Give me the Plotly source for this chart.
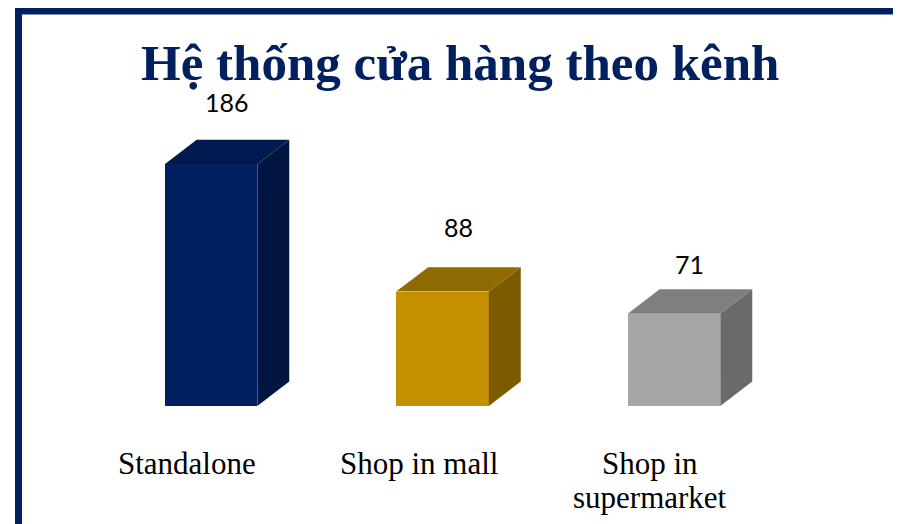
import plotly.graph_objects as go

# ---- data ----
categories = ["Standalone", "Shop in mall", "Shop in\nsupermarket"]
values = [186, 88, 71]
title_text = "Hệ thống cửa hàng theo kênh"

# ---- styles ----
front_colors = ["#002060", "#c59000", "#a6a6a6"]
top_colors = ["#001a4f", "#8f6a00", "#7f7f7f"]
side_colors = ["#00153f", "#7c5b00", "#6a6a6a"]
label_shift_px = [38, 40, 25]
navy = "#002060"

W, H = 901, 524
OFF = 8  # page body margin
bar_w = 0.4
dx = 0.138   # depth in category units
dy = 18.8    # depth in value units

x_pos = list(range(len(categories)))

fig = go.Figure()

# front faces
fig.add_trace(go.Bar(
    x=x_pos, y=values, width=bar_w,
    marker=dict(color=front_colors, line=dict(width=0)),
    hoverinfo="skip", showlegend=False,
))

# top and side faces
for i, v in enumerate(values):
    xl = x_pos[i] - bar_w / 2
    xr = x_pos[i] + bar_w / 2
    fig.add_trace(go.Scatter(
        x=[xl, xr, xr + dx, xl + dx, xl],
        y=[v, v, v + dy, v + dy, v],
        fill="toself", fillcolor=top_colors[i], mode="lines",
        line=dict(width=0, color=top_colors[i]),
        hoverinfo="skip", showlegend=False,
    ))
    fig.add_trace(go.Scatter(
        x=[xr, xr + dx, xr + dx, xr, xr],
        y=[0, dy, v + dy, v, 0],
        fill="toself", fillcolor=side_colors[i], mode="lines",
        line=dict(width=0, color=side_colors[i]),
        hoverinfo="skip", showlegend=False,
    ))

annotations = []
# value labels
for i, v in enumerate(values):
    annotations.append(dict(
        x=x_pos[i] + dx / 2, y=v + dy, xref="x", yref="y",
        text=str(v), showarrow=False, yanchor="middle", xanchor="center",
        yshift=label_shift_px[i],
        font=dict(family="Lato, Open Sans, sans-serif", size=25, color="#000000"),
    ))

# category labels (line by line)
for i, cat in enumerate(categories):
    for j, line in enumerate(cat.split("\n")):
        annotations.append(dict(
            x=x_pos[i], y=0, xref="x", yref="y",
            text=line, showarrow=False, yanchor="middle", xanchor="center",
            xshift=-24, yshift=-(57 + 34 * j),
            font=dict(family="Liberation Serif, serif", size=31, color="#000000"),
        ))

# title
annotations.append(dict(
    x=(459.5 - OFF) / W, y=1 - (63 - OFF) / H, xref="paper", yref="paper",
    text="<b>" + title_text + "</b>", showarrow=False,
    xanchor="center", yanchor="middle",
    font=dict(family="Liberation Serif, serif", size=51, color=navy),
))

px_per_cat = 231.5
px_per_unit = 1.3
x0_px = 211 - OFF
base_px = 406 - OFF

fig.update_layout(
    width=W, height=H,
    margin=dict(l=0, r=0, t=0, b=0),
    paper_bgcolor="white", plot_bgcolor="white",
    xaxis=dict(range=[-x0_px / px_per_cat, (W - x0_px) / px_per_cat],
               visible=False, fixedrange=True),
    yaxis=dict(range=[-(H - base_px) / px_per_unit, base_px / px_per_unit],
               visible=False, fixedrange=True),
    annotations=annotations,
    shapes=[dict(
        type="rect", xref="paper", yref="paper",
        x0=(18.5 - OFF) / W, x1=(898.5 - OFF) / W, y0=-0.2, y1=1 - (11 - OFF) / H,
        line=dict(color=navy, width=7), fillcolor="rgba(0,0,0,0)",
        layer="above",
    )],
    bargap=0,
)

fig.write_html("out.html", config={"displayModeBar": False})
